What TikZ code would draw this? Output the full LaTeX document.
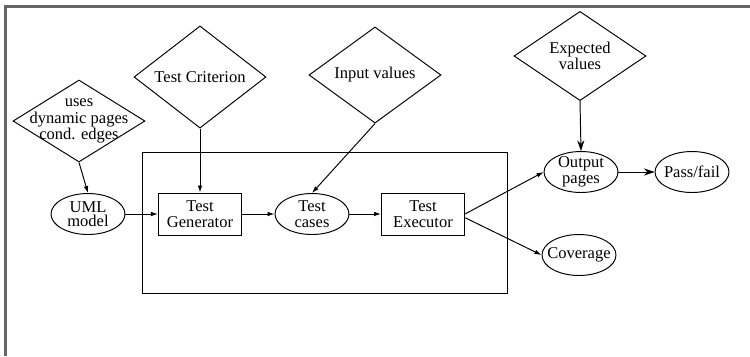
\documentclass[tikz,border=0pt]{standalone}
\usepackage{fontspec}
\setmainfont{Liberation Serif}
\usetikzlibrary{shapes.geometric,arrows.meta}
\tikzset{
  decision/.style={draw,diamond,minimum width=2.64cm,minimum height=1.64cm,inner sep=0pt,align=center},
  state/.style={draw,ellipse,minimum width=1.48cm,minimum height=0.82cm,inner sep=0pt},
  block/.style={draw,rectangle,minimum width=1.66cm,minimum height=0.84cm,inner sep=0pt,align=center},
  txt/.style={align=center,inner sep=0pt},
  flow/.style={-{Latex[length=4pt,width=2.6pt]}},
  flowbig/.style={-{Stealth[length=6pt,width=4pt]}}
}
\begin{document}
\begin{tikzpicture}[x=0.02cm,y=-0.02cm,line width=0.55pt,font=\fontsize{9.4}{9.2}\selectfont]
\useasboundingbox (0,0) rectangle (750,356);
\draw[gray!80!black,line width=1.2pt] (5.5,356) -- (5.5,6.5) -- (750,6.5);
\draw (142,152) rectangle (507,293);
\node[decision,label={[txt]center:uses\\dynamic pages\\cond. edges}] (uses) at (79,121) {};
\node[decision] (crit) at (200,77) {Test Criterion};
\node[decision] (inp) at (375,75) {Input values};
\node[decision] (exp) at (580,56) {Expected\\values};
\node[state,label={[txt]center:UML\\[-1pt]model}] (uml) at (88,214) {};
\node[block] (gen) at (200,214) {Test\\Generator};
\node[state,label={[txt]center:Test\\cases}] (cases) at (312,214) {};
\node[block] (exec) at (423,214) {Test\\Executor};
\node[state,label={[txt]center:Output\\pages}] (outp) at (581,172) {};
\node[state,label={[txt]center:Pass/fail}] (pass) at (692,172) {};
\node[state,label={[txt]center:Coverage}] (cov) at (579,255) {};
\draw[flow] (uses.south) -- (uml.north);
\draw[flow] (crit.south) -- (gen.north);
\draw[flow] (inp.south) -- (cases.north);
\draw[flowbig] (exp.south) -- (outp.north);
\draw[flow] (uml) -- (gen);
\draw[flow] (gen) -- (cases);
\draw[flow] (cases) -- (exec);
\draw[flow] (exec.east) -- (outp.west);
\draw[flow] (exec.-5) -- (cov.west);
\draw[flowbig] (outp) -- (pass);
\end{tikzpicture}
\end{document}
